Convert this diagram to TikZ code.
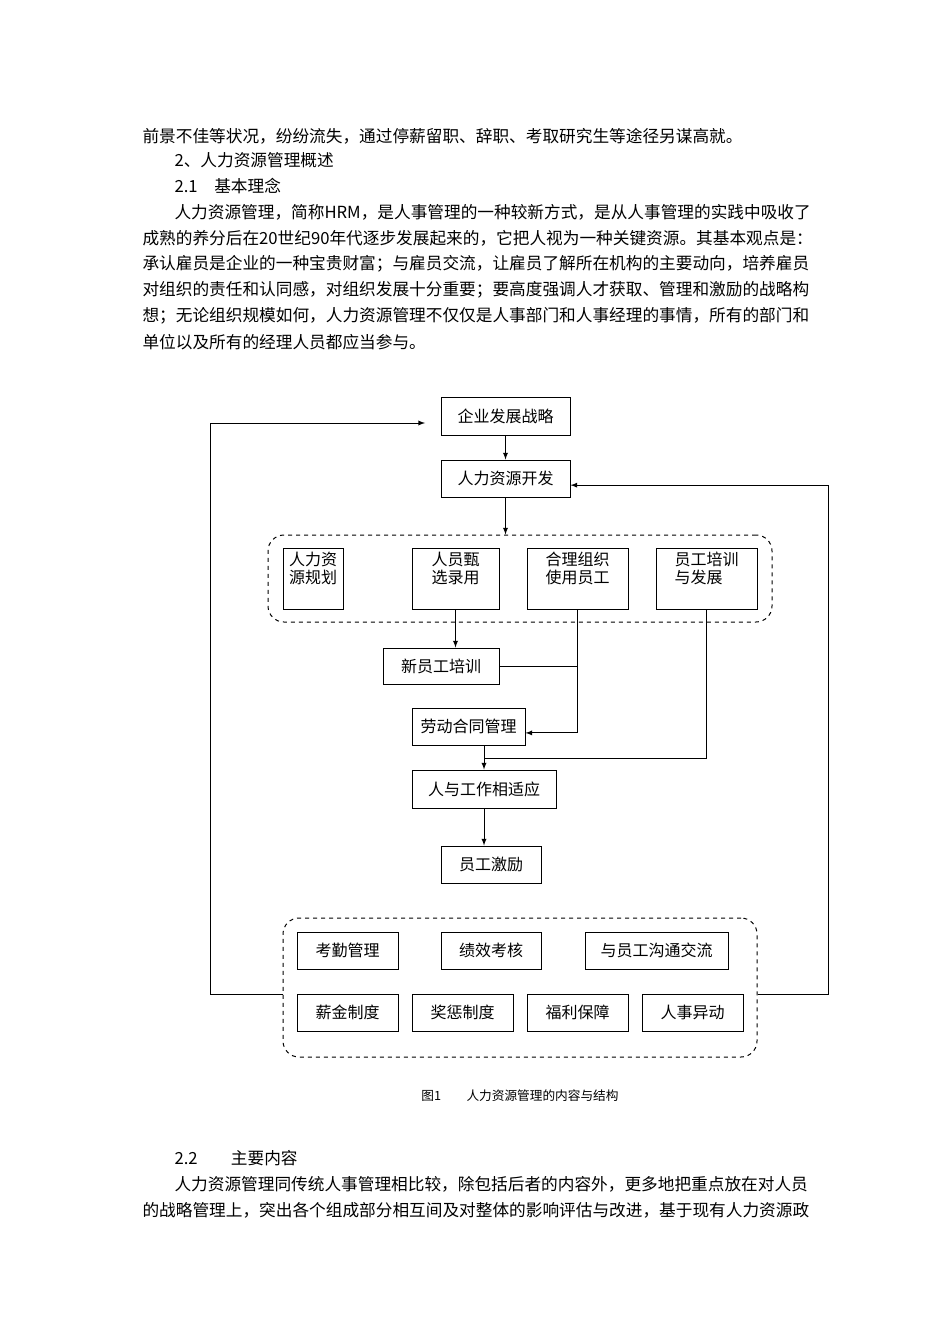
\documentclass[tikz,border=0pt]{standalone}
\usepackage{fontspec}
\setmainfont{Liberation Serif}
\newfontfamily\cjk{Noto Sans CJK SC}
\begin{document}
\begin{tikzpicture}[x=0.75pt,y=-0.75pt,
box/.style 2 args = {draw, fill=white, rectangle, line width=0.75pt, minimum width=#1*0.75pt, minimum height=#2*0.75pt, inner sep=2pt, font=\cjk\fontsize{12}{14}\selectfont},
tall/.style = {box={#1}{61}, align=left, text depth=16pt},
group/.style 2 args = {draw, dashed, rounded corners=12pt, line width=0.75pt, minimum width=#1*0.75pt, minimum height=#2*0.75pt},
line/.style = {anchor=west, font=\cjk\fontsize{12.5}{14}\selectfont, inner sep=0pt},
>=latex, line width=0.75pt
]
\useasboundingbox (0,0) rectangle (950,1344);

% page text
\node [line] (t1) at (142,136) {前景不佳等状况，纷纷流失，通过停薪留职、辞职、考取研究生等途径另谋高就。};
\node [line] (t2) at (174,160) {2、人力资源管理概述};
\node [line] (t3) at (174,186) {2.1　基本理念};
\node [line] (p1) at (174,212) {人力资源管理，简称HRM，是人事管理的一种较新方式，是从人事管理的实践中吸收了};
\node [line] (p2) at (142,238) {成熟的养分后在20世纪90年代逐步发展起来的，它把人视为一种关键资源。其基本观点是：};
\node [line] (p3) at (142,264) {承认雇员是企业的一种宝贵财富；与雇员交流，让雇员了解所在机构的主要动向，培养雇员};
\node [line] (p4) at (142,290) {对组织的责任和认同感，对组织发展十分重要；要高度强调人才获取、管理和激励的战略构};
\node [line] (p5) at (142,316) {想；无论组织规模如何，人力资源管理不仅仅是人事部门和人事经理的事情，所有的部门和};
\node [line] (p6) at (142,342) {单位以及所有的经理人员都应当参与。};

% groups
\node [group={504}{87}] (g1) at (520,578.5) {};
\node [group={474}{139}] (g2) at (520,987.5) {};

% main chain
\node [box={129}{38}] (strat) at (505.5,416) {企业发展战略};
\node [box={129}{37}] (dev) at (505.5,478.5) {人力资源开发};
\node [tall=60] (plan) at (313,578.5) {人力资\\源规划};
\node [tall=87] (recruit) at (455.5,578.5) {人员甄\\选录用};
\node [tall=101] (use) at (577.5,578.5) {合理组织\\使用员工};
\node [tall=101] (train) at (706.5,578.5) {员工培训\\与发展};
\node [box={116}{36}] (newtr) at (441,666) {新员工培训};
\node [box={113}{37}] (labor) at (468.5,726.5) {劳动合同管理};
\node [box={144}{38}] (fit) at (484,789) {人与工作相适应};
\node [box={100}{37}] (motiv) at (491,864.5) {员工激励};

% lower group
\node [box={101}{37}] (attend) at (347.5,950.5) {考勤管理};
\node [box={100}{37}] (perf) at (491,950.5) {绩效考核};
\node [box={143}{37}] (comm) at (656.5,950.5) {与员工沟通交流};
\node [box={101}{37}] (salary) at (347.5,1012.5) {薪金制度};
\node [box={101}{37}] (reward) at (462.5,1012.5) {奖惩制度};
\node [box={101}{37}] (welfare) at (577.5,1012.5) {福利保障};
\node [box={101}{37}] (transfer) at (692.5,1012.5) {人事异动};

\coordinate (lefttop) at (425,423);

\draw [->] (strat) -- (dev);
\draw [->] (dev.south) -- (dev.south |- g1.north);
\draw [->] (recruit.south) -- (recruit.south |- newtr.north);
\draw [->] (use.south) |- ([yshift=-4.8pt]labor.east);
\draw (newtr.east) -- (newtr.east -| use.south);
\draw (train.south) |- (484,758);
\draw [->] (labor.south -| fit.north) -- (fit.north);
\draw [->] (fit.south) -- (fit.south |- motiv.north);
\draw [->] ([yshift=-5.6pt]g2.west) -- ++(-72,0) |- (lefttop);
\draw [->] ([yshift=-5.6pt]g2.east) -- ++(71,0) |- ([yshift=-5pt]dev.east);

\node [font=\cjk\fontsize{9.5}{11}\selectfont] (cap) at (520,1096) {图1　　人力资源管理的内容与结构};

% page text below
\node [line] (t4) at (174,1158) {2.2　　主要内容};
\node [line] (q1) at (174,1184) {人力资源管理同传统人事管理相比较，除包括后者的内容外，更多地把重点放在对人员};
\node [line] (q2) at (142,1210) {的战略管理上，突出各个组成部分相互间及对整体的影响评估与改进，基于现有人力资源政};
\end{tikzpicture}
\end{document}
